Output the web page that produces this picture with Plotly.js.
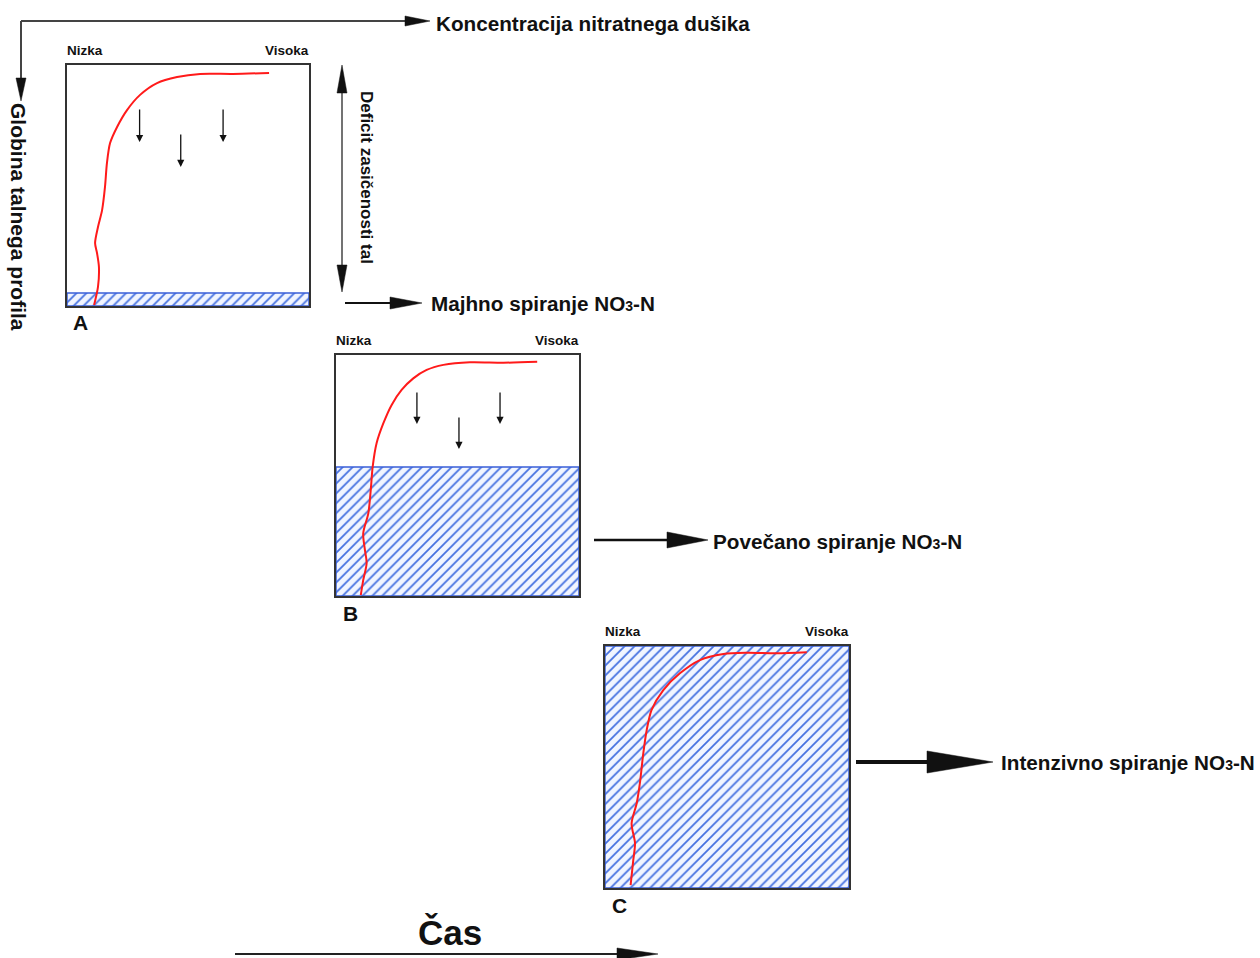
<!DOCTYPE html>
<html>
<head>
<meta charset="utf-8">
<script src="https://cdn.plot.ly/plotly-3.0.1.min.js"></script>
<style>html,body{margin:0;padding:0;background:#fff;}#chart{width:1260px;height:958px;}</style>
</head>
<body>
<div id="chart"></div>
<script>
// ---- data (concentration 0..1 left→right, depth 0..1 top→bottom) ----
const panelLabels = ['A', 'B', 'C'];
const lowLabel = 'Nizka';
const highLabel = 'Visoka';
const leachingLabels = ['Majhno spiranje NO<span style="font-size:14px">3</span>-N',
                        'Povečano spiranje NO<span style="font-size:14px">3</span>-N',
                        'Intenzivno spiranje NO<span style="font-size:14px">3</span>-N'];
const waterTableDepth = [0.946, 0.465, 0.0];

const curveA_conc  = [0.835,0.686,0.550,0.455,0.372,0.302,0.248,0.207,0.178,0.165,0.157,0.145,0.128,0.116,0.124,0.132,0.128,0.112];
const curveA_depth = [0.033,0.037,0.037,0.050,0.075,0.124,0.187,0.257,0.324,0.407,0.506,0.602,0.672,0.739,0.780,0.838,0.921,0.996];
const curveB_conc  = [0.828,0.689,0.551,0.442,0.373,0.318,0.270,0.229,0.195,0.167,0.151,0.143,0.133,0.112,0.119,0.126,0.112,0.102];
const curveB_depth = [0.028,0.032,0.030,0.041,0.062,0.097,0.145,0.207,0.283,0.366,0.463,0.560,0.657,0.740,0.809,0.864,0.934,0.996];
const curveC_conc  = [0.827,0.704,0.581,0.485,0.389,0.307,0.239,0.191,0.171,0.157,0.143,0.130,0.109,0.123,0.116,0.105];
const curveC_depth = [0.026,0.030,0.028,0.033,0.058,0.113,0.182,0.264,0.347,0.443,0.567,0.650,0.733,0.815,0.884,0.988];

// small downward percolation arrows (panels A and B)
const percA_cols  = [0.30, 0.47, 0.645];
const percA_start = [0.178, 0.282, 0.178];
const percA_end   = [0.320, 0.423, 0.320];
const percB_cols  = [0.333, 0.506, 0.675];
const percB_start = [0.149, 0.253, 0.149];
const percB_end   = [0.286, 0.390, 0.286];

const curves = [[curveA_conc, curveA_depth], [curveB_conc, curveB_depth], [curveC_conc, curveC_depth]];
const percolation = [[percA_cols, percA_start, percA_end], [percB_cols, percB_start, percB_end], null];

// ---- layout geometry (pixels) ----
const W = 1260, H = 958;
const px = x => x / W;
const py = y => 1 - y / H;
const boxes = [
  {x0: 67,  x1: 309, y0: 65,  y1: 306},
  {x0: 336, x1: 579, y0: 355, y1: 596},
  {x0: 605, x1: 849, y0: 646, y1: 888}
];
const FONT = 'Liberation Sans, Arial, sans-serif';
const TXT = '#111';

const traces = [];
const layout = {
  width: W, height: H,
  margin: {l: 0, r: 0, t: 0, b: 0},
  paper_bgcolor: '#fff', plot_bgcolor: 'rgba(0,0,0,0)',
  showlegend: false,
  shapes: [], annotations: []
};

boxes.forEach((b, i) => {
  const n = i === 0 ? '' : String(i + 1);
  const xa = 'x' + n, ya = 'y' + n;
  const axBase = {showticklabels: false, showgrid: false, zeroline: false, ticks: '',
                  showline: true, mirror: true, linecolor: '#333', linewidth: 2, fixedrange: true};
  layout['xaxis' + n] = Object.assign({}, axBase, {domain: [px(b.x0), px(b.x1)], range: [0, 1], anchor: ya});
  layout['yaxis' + n] = Object.assign({}, axBase, {domain: [py(b.y1), py(b.y0)], range: [1, 0], anchor: xa});

  const wt = waterTableDepth[i];
  traces.push({
    x: [0, 1, 1, 0, 0], y: [wt, wt, 1, 1, wt], xaxis: xa, yaxis: ya,
    type: 'scatter', mode: 'lines', fill: 'toself',
    line: {color: '#3a5fd8', width: 1.5},
    fillcolor: '#f1f5ff',
    fillpattern: {shape: '/', fgcolor: '#4470e0', bgcolor: '#f1f5ff', size: 7, solidity: 0.25},
    hoverinfo: 'skip'
  });
  traces.push({
    x: curves[i][0], y: curves[i][1], xaxis: xa, yaxis: ya,
    type: 'scatter', mode: 'lines', line: {color: '#ff1a1a', width: 2, shape: 'spline', smoothing: 0.8},
    hoverinfo: 'skip'
  });

  const perc = percolation[i];
  if (perc) {
    perc[0].forEach((c, k) => {
      layout.annotations.push({
        x: c, y: perc[2][k], ax: c, ay: perc[1][k],
        xref: xa, yref: ya, axref: xa, ayref: ya,
        showarrow: true, arrowhead: 2, arrowsize: 1.1, arrowwidth: 1.3, arrowcolor: '#111', text: ''
      });
    });
  }

  layout.annotations.push({x: px(b.x0 - 2), y: py(b.y0 - 15), xref: 'paper', yref: 'paper',
    text: '<b>' + lowLabel + '</b>', showarrow: false, xanchor: 'left', yanchor: 'middle',
    font: {family: FONT, size: 13.5, color: TXT}});
  layout.annotations.push({x: px(b.x1 + 2), y: py(b.y0 - 15), xref: 'paper', yref: 'paper',
    text: '<b>' + highLabel + '</b>', showarrow: false, xanchor: 'right', yanchor: 'middle',
    font: {family: FONT, size: 13.5, color: TXT}});
  layout.annotations.push({x: px(b.x0 + 14), y: py(b.y1 + 17), xref: 'paper', yref: 'paper',
    text: '<b>' + panelLabels[i] + '</b>', showarrow: false, xanchor: 'center', yanchor: 'middle',
    font: {family: FONT, size: 21, color: TXT}});
});

// ---- arrows (pixel geometry → paper) ----
function line(x1, y1, x2, y2, w, c) {
  layout.shapes.push({type: 'line', xref: 'paper', yref: 'paper',
    x0: px(x1), y0: py(y1), x1: px(x2), y1: py(y2), line: {color: c, width: w}});
}
function tri(pts, c) {
  const d = 'M ' + pts.map(p => px(p[0]) + ',' + py(p[1])).join(' L ') + ' Z';
  layout.shapes.push({type: 'path', xref: 'paper', yref: 'paper', path: d,
    fillcolor: c, line: {color: c, width: 0.5}});
}
// axes of the diagram
line(21, 21, 408, 21, 2, '#444');
tri([[430, 21], [405, 16], [405, 26]], '#111');
line(21, 21, 21, 80, 2, '#444');
tri([[21, 101], [16, 78], [26, 78]], '#111');
// deficit double arrow
line(342, 88, 342, 270, 1.5, '#444');
tri([[342, 65], [337, 93], [347, 93]], '#111');
tri([[342, 292], [337, 265], [347, 265]], '#111');
// leaching arrows
line(345, 303, 393, 303, 2, '#111');
tri([[422, 303], [390, 297], [390, 309]], '#111');
line(594, 540, 670, 540, 2.5, '#111');
tri([[708, 540], [667, 532], [667, 548]], '#111');
line(856, 762, 930, 762, 4, '#111');
tri([[993, 762], [927, 751], [927, 773]], '#111');
// time arrow
line(235, 954, 620, 954, 2, '#222');
tri([[658, 954], [617, 948], [617, 960]], '#111');

// ---- texts ----
function txt(x, y, s, size, anchor, angle) {
  layout.annotations.push({x: px(x), y: py(y), xref: 'paper', yref: 'paper', text: '<b>' + s + '</b>',
    showarrow: false, xanchor: anchor || 'left', yanchor: 'middle', textangle: angle || 0,
    font: {family: FONT, size: size, color: TXT}});
}
txt(434, 23, 'Koncentracija nitratnega dušika', 20.7);
txt(18, 217, 'Globina talnega profila', 21, 'center', 90);
txt(366, 177, 'Deficit zasičenosti tal', 17, 'center', 90);
txt(429, 303, leachingLabels[0], 20.7);
txt(711, 541, leachingLabels[1], 20.7);
txt(999, 762, leachingLabels[2], 20.7);
txt(450, 932, 'Čas', 35, 'center');

Plotly.newPlot('chart', traces, layout, {staticPlot: true, displayModeBar: false});
</script>
</body>
</html>
